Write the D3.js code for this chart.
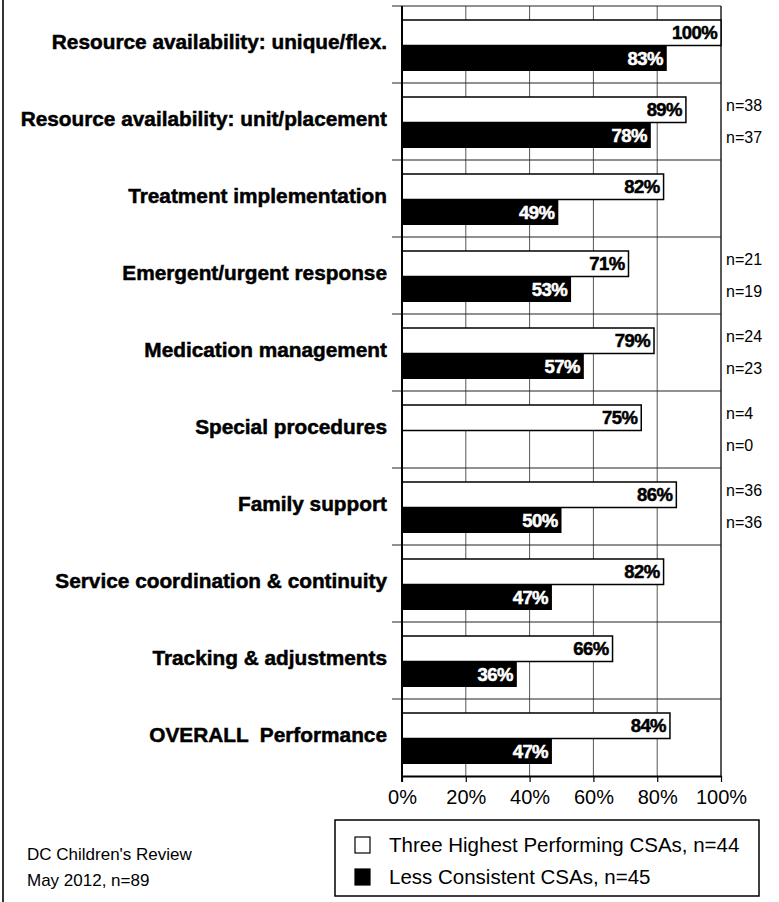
<!DOCTYPE html>
<html>
<head>
<meta charset="utf-8">
<script src="https://cdn.jsdelivr.net/npm/d3@7"></script>
<style>
  html, body { margin: 0; padding: 0; background: #fff; }
  svg { display: block; font-family: "Liberation Sans", Arial, Helvetica, sans-serif; }
</style>
</head>
<body>
<svg id="chart" width="779" height="902"></svg>
<script>
// ---- data ----
const categories = [
  "Resource availability: unique/flex.",
  "Resource availability: unit/placement",
  "Treatment implementation",
  "Emergent/urgent response",
  "Medication management",
  "Special procedures",
  "Family support",
  "Service coordination & continuity",
  "Tracking & adjustments",
  "OVERALL  Performance"
];
const seriesNames = ["Three Highest Performing CSAs, n=44", "Less Consistent CSAs, n=45"];
const highestValues = [100, 89, 82, 71, 79, 75, 86, 82, 66, 84];
const lessValues    = [83, 78, 49, 53, 57, null, 50, 47, 36, 47];
const nHighest = [null, 38, null, 21, 24, 4, 36, null, null, null];
const nLess    = [null, 37, null, 19, 23, 0, 36, null, null, null];
const tickValues = [0, 20, 40, 60, 80, 100];
const noteLines = ["DC Children's Review", "May 2012, n=89"];

// ---- layout ----
const svg = d3.select("#chart");
const x = d3.scaleLinear().domain([0, 100]).range([402, 721]);
const y = d3.scaleBand().domain(categories).range([6, 776]);
const sub = d3.scaleBand().domain(["high", "less"]).range([14, 65]);

// left figure border
svg.append("line").attr("x1", 3).attr("x2", 3).attr("y1", 0).attr("y2", 902)
  .attr("stroke", "#333").attr("stroke-width", 2);

// vertical gridlines
svg.append("g").selectAll("line").data(tickValues.slice(1, -1)).join("line")
  .attr("x1", d => x(d)).attr("x2", d => x(d))
  .attr("y1", y.range()[0]).attr("y2", y.range()[1])
  .attr("stroke", "#555").attr("stroke-width", 1);

// horizontal band boundaries (extend left as ticks)
const bounds = categories.map(c => y(c));
svg.append("g").selectAll("line").data(bounds).join("line")
  .attr("x1", 392).attr("x2", x(100))
  .attr("y1", d => d).attr("y2", d => d)
  .attr("stroke", "#222").attr("stroke-width", 1.2);

// right border
svg.append("line").attr("x1", x(100)).attr("x2", x(100))
  .attr("y1", y.range()[0]).attr("y2", y.range()[1])
  .attr("stroke", "#222").attr("stroke-width", 1.5);

// rows
const rows = svg.append("g").selectAll("g").data(categories).join("g")
  .attr("transform", c => `translate(0,${y(c)})`);

// white bars
rows.append("rect")
  .attr("x", x(0)).attr("y", sub("high"))
  .attr("width", (c, i) => x(highestValues[i]) - x(0))
  .attr("height", sub.bandwidth())
  .attr("fill", "#fff").attr("stroke", "#000").attr("stroke-width", 1.5);

// black bars
rows.filter((c, i) => lessValues[i] != null).append("rect")
  .attr("x", x(0)).attr("y", sub("less"))
  .attr("width", c => x(lessValues[categories.indexOf(c)]) - x(0))
  .attr("height", sub.bandwidth())
  .attr("fill", "#000");

// value labels
rows.append("text")
  .attr("x", (c, i) => x(highestValues[i]) - 4)
  .attr("y", sub("high") + sub.bandwidth() / 2 + 6.5)
  .attr("text-anchor", "end").attr("font-weight", "bold").attr("font-size", 18.5)
  .attr("fill", "#000").attr("stroke", "#000").attr("stroke-width", 0.5)
  .attr("letter-spacing", -0.6)
  .text((c, i) => highestValues[i] + "%");

rows.filter((c, i) => lessValues[i] != null).append("text")
  .attr("x", c => x(lessValues[categories.indexOf(c)]) - 4)
  .attr("y", sub("less") + sub.bandwidth() / 2 + 6.5)
  .attr("text-anchor", "end").attr("font-weight", "bold").attr("font-size", 18.5)
  .attr("fill", "#fff").attr("stroke", "#fff").attr("stroke-width", 0.5)
  .attr("letter-spacing", -0.6)
  .text(c => lessValues[categories.indexOf(c)] + "%");

// n labels
rows.filter((c, i) => nHighest[i] != null).append("text")
  .attr("x", 726).attr("y", sub("high") + sub.bandwidth() / 2 + 1.5)
  .attr("font-size", 16).attr("fill", "#000")
  .text(c => "n=" + nHighest[categories.indexOf(c)]);
rows.filter((c, i) => nLess[i] != null).append("text")
  .attr("x", 726).attr("y", sub("less") + sub.bandwidth() / 2 + 7.5)
  .attr("font-size", 16).attr("fill", "#000")
  .text(c => "n=" + nLess[categories.indexOf(c)]);

// category labels
rows.append("text")
  .attr("x", 387).attr("y", y.bandwidth() / 2 + 4.5)
  .attr("text-anchor", "end").attr("font-weight", "bold").attr("font-size", 20.8)
  .attr("stroke", "#000").attr("stroke-width", 0.5)
  .attr("xml:space", "preserve")
  .text(c => c);

// left axis line
svg.append("line").attr("x1", x(0)).attr("x2", x(0))
  .attr("y1", y.range()[0]).attr("y2", y.range()[1] + 6)
  .attr("stroke", "#000").attr("stroke-width", 2);

// bottom axis
const xAxis = d3.axisBottom(x).tickValues(tickValues).tickSize(6).tickSizeOuter(0)
  .tickFormat(d => d + "%");
const gx = svg.append("g").attr("transform", `translate(0,${y.range()[1]})`).call(xAxis);
gx.select(".domain").attr("stroke", "#000").attr("stroke-width", 2);
gx.selectAll(".tick line").attr("stroke", "#000").attr("stroke-width", 1.2);
gx.selectAll(".tick text").attr("font-size", 20).attr("font-family", "Liberation Sans, Arial, sans-serif")
  .attr("fill", "#000").attr("dy", null).attr("y", 28);

// legend
const lg = svg.append("g");
lg.append("rect").attr("x", 335).attr("y", 820).attr("width", 424).attr("height", 76)
  .attr("fill", "#fff").attr("stroke", "#000").attr("stroke-width", 1.5);
const legendRows = [{ fill: "#fff", cy: 845 }, { fill: "#000", cy: 877 }];
legendRows.forEach((r, i) => {
  lg.append("rect").attr("x", 355).attr("y", r.cy - 8).attr("width", 15).attr("height", 16)
    .attr("fill", r.fill).attr("stroke", "#000").attr("stroke-width", 1.2);
  lg.append("text").attr("x", 389).attr("y", r.cy + 6.5)
    .attr("font-size", 20.5).attr("fill", "#000").text(seriesNames[i]);
});

// note
noteLines.forEach((t, i) => {
  svg.append("text").attr("x", 27).attr("y", 860 + i * 26)
    .attr("font-size", 17).attr("fill", "#000").text(t);
});
</script>
</body>
</html>
